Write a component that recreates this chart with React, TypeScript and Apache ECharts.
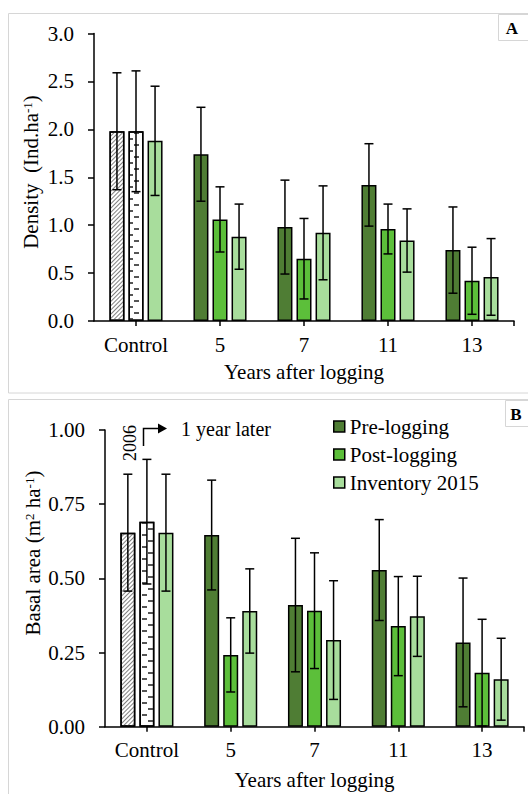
import React, { useEffect, useRef } from "react";
import * as echarts from "echarts";

// Categories and group labels
const categories = ["Control", "5", "7", "11", "13"];
const seriesNames = ["Pre-logging", "Post-logging", "Inventory 2015"];

// Panel A: density (Ind.ha-1), means and standard deviations
const densityPre = [1.98, 1.74, 0.98, 1.42, 0.74];
const densityPost = [1.98, 1.06, 0.65, 0.96, 0.42];
const densityInv = [1.88, 0.88, 0.92, 0.84, 0.46];
const densityPreSd = [0.61, 0.49, 0.49, 0.43, 0.45];
const densityPostSd = [0.63, 0.34, 0.42, 0.26, 0.35];
const densityInvSd = [0.57, 0.34, 0.49, 0.33, 0.4];

// Panel B: basal area (m2 ha-1), means and standard deviations
const basalPre = [0.654, 0.646, 0.41, 0.528, 0.284];
const basalPost = [0.691, 0.242, 0.391, 0.339, 0.182];
const basalInv = [0.654, 0.39, 0.292, 0.372, 0.16];
const basalPreSd = [0.197, 0.185, 0.225, 0.17, 0.217];
const basalPostSd = [0.21, 0.125, 0.195, 0.167, 0.18];
const basalInvSd = [0.197, 0.142, 0.2, 0.135, 0.138];

// Axis scales
const densityAxis = { min: 0, max: 3, interval: 0.5, digits: 1 };
const basalAxis = { min: 0, max: 1, interval: 0.25, digits: 2 };

const COLORS = ["#4f7d34", "#5cbf3a", "#a8dd9c"];
const FONT = "Liberation Serif";
const FS = 21;
const BAR_W = 15;
const GAP_RATIO = 0.27;
const PITCH = BAR_W * (1 + GAP_RATIO);

// Control bars: diagonal hatch (2006) and staggered dashes (1 year later)
const hatchDecal = {
  symbol: "rect",
  symbolSize: 1,
  color: "#808080",
  dashArrayX: [1, 0],
  dashArrayY: [1, 2],
  rotation: -Math.PI / 4,
};

const dashDecal = {
  symbol: "rect",
  symbolSize: 1,
  color: "#555555",
  dashArrayX: [
    [0, 2, 5, 7],
    [0, 8, 5, 1],
  ],
  dashArrayY: [2, 4],
  rotation: 0,
};

function barData(values: number[], seriesIdx: number) {
  return values.map((v, i) => {
    if (i === 0 && seriesIdx < 2) {
      return {
        value: v,
        itemStyle: { color: "#ffffff", decal: seriesIdx === 0 ? hatchDecal : dashDecal },
      };
    }
    return v;
  });
}

function barSeries(values: number[], seriesIdx: number, axisIdx: number) {
  return {
    type: "bar",
    name: seriesNames[seriesIdx],
    xAxisIndex: axisIdx,
    yAxisIndex: axisIdx,
    barWidth: BAR_W,
    barGap: `${GAP_RATIO * 100}%`,
    itemStyle: { color: COLORS[seriesIdx], borderColor: "#000", borderWidth: 1.5 },
    data: barData(values, seriesIdx),
    z: 2,
  };
}

function errorSeries(means: number[], sds: number[], seriesIdx: number, axisIdx: number) {
  const offset = (seriesIdx - 1) * PITCH;
  return {
    type: "custom",
    xAxisIndex: axisIdx,
    yAxisIndex: axisIdx,
    encode: { x: 0, y: 1 },
    z: 5,
    data: means.map((m, i) => [i, m, sds[i]]),
    renderItem: (_params: any, api: any) => {
      const idx = api.value(0);
      const mean = api.value(1);
      const sd = api.value(2);
      const top = api.coord([idx, mean + sd]);
      const bot = api.coord([idx, Math.max(0, mean - sd)]);
      const x = top[0] + offset;
      const style = { stroke: "#000", lineWidth: 1.5 };
      const cap = 4.5;
      return {
        type: "group",
        children: [
          { type: "line", shape: { x1: x, y1: top[1], x2: x, y2: bot[1] }, style },
          { type: "line", shape: { x1: x - cap, y1: top[1], x2: x + cap, y2: top[1] }, style },
          { type: "line", shape: { x1: x - cap, y1: bot[1], x2: x + cap, y2: bot[1] }, style },
        ],
      };
    },
  };
}

function yAxis(scale: { min: number; max: number; interval: number; digits: number }, gridIndex: number) {
  return {
    type: "value",
    gridIndex,
    min: scale.min,
    max: scale.max,
    interval: scale.interval,
    splitLine: { show: false },
    axisLine: { show: true, lineStyle: { color: "#000", width: 1.5 } },
    axisTick: { show: true, inside: false, length: 6, lineStyle: { color: "#000", width: 1.5 } },
    axisLabel: {
      margin: 20,
      fontFamily: FONT,
      fontSize: FS,
      color: "#000",
      formatter: (v: number) => v.toFixed(scale.digits),
    },
  };
}

function xAxis(gridIndex: number, nameGap: number) {
  return {
    type: "category",
    gridIndex,
    data: categories,
    name: "Years after logging",
    nameLocation: "middle",
    nameGap,
    nameTextStyle: { fontFamily: FONT, fontSize: FS, color: "#000" },
    axisLine: { show: true, lineStyle: { color: "#000", width: 1.5 } },
    axisTick: { show: true, alignWithLabel: true, length: 5, lineStyle: { color: "#000", width: 1.5 } },
    axisLabel: { margin: 13, fontFamily: FONT, fontSize: FS, color: "#000" },
  };
}

const nameRich = {
  base: { fontFamily: FONT, fontSize: FS, fill: "#000" },
  sup: { fontFamily: FONT, fontSize: 13, fill: "#000", verticalAlign: "top" },
};

export default function App() {
  const ref = useRef<HTMLDivElement>(null);

  useEffect(() => {
    document.body.style.margin = "0";
    if (!ref.current) return;
    const chart = echarts.init(ref.current, undefined, { renderer: "svg" });

    const axisEndTick = (x: number, y: number) => ({
      type: "line",
      z: 10,
      shape: { x1: x, y1: y, x2: x, y2: y + 5 },
      style: { stroke: "#000", lineWidth: 1.5 },
    });

    const option: any = {
      animation: false,
      backgroundColor: "#ffffff",
      grid: [
        { left: 94, right: 14, top: 33.5, height: 287.5 },
        { left: 105, right: 4, top: 430, height: 296.7 },
      ],
      xAxis: [xAxis(0, 40), xAxis(1, 43)],
      yAxis: [yAxis(densityAxis, 0), yAxis(basalAxis, 1)],
      legend: {
        data: seriesNames,
        orient: "vertical",
        left: 328,
        top: 411,
        itemWidth: 11,
        itemHeight: 11,
        itemGap: 7,
        icon: "rect",
        itemStyle: { borderColor: "#000", borderWidth: 1.5 },
        textStyle: { fontFamily: FONT, fontSize: FS, color: "#000", lineHeight: 21 },
      },
      series: [
        barSeries(densityPre, 0, 0),
        barSeries(densityPost, 1, 0),
        barSeries(densityInv, 2, 0),
        errorSeries(densityPre, densityPreSd, 0, 0),
        errorSeries(densityPost, densityPostSd, 1, 0),
        errorSeries(densityInv, densityInvSd, 2, 0),
        barSeries(basalPre, 0, 1),
        barSeries(basalPost, 1, 1),
        barSeries(basalInv, 2, 1),
        errorSeries(basalPre, basalPreSd, 0, 1),
        errorSeries(basalPost, basalPostSd, 1, 1),
        errorSeries(basalInv, basalInvSd, 2, 1),
      ],
      graphic: [
        // panel frames
        {
          type: "rect",
          shape: { x: 8.5, y: 13.5, width: 540, height: 379.5 },
          style: { fill: "none", stroke: "#d6d6d6", lineWidth: 1 },
          z: 0,
        },
        {
          type: "rect",
          shape: { x: 8.5, y: 399.5, width: 540, height: 420 },
          style: { fill: "none", stroke: "#d6d6d6", lineWidth: 1 },
          z: 0,
        },
        // closing ticks at the right end of each category axis
        axisEndTick(514, 321),
        axisEndTick(524, 726.7),
        // panel letters
        {
          type: "rect",
          shape: { x: 498.5, y: 14.5, width: 40, height: 26 },
          style: { fill: "#fff", stroke: "#d6d6d6", lineWidth: 1 },
          z: 10,
        },
        {
          type: "text",
          x: 512,
          y: 28,
          z: 11,
          style: { text: "A", font: `bold 17px '${FONT}'`, fill: "#000", align: "center", verticalAlign: "middle" },
        },
        {
          type: "rect",
          shape: { x: 505.5, y: 400.5, width: 40, height: 26 },
          style: { fill: "#fff", stroke: "#d6d6d6", lineWidth: 1 },
          z: 10,
        },
        {
          type: "text",
          x: 516,
          y: 414,
          z: 11,
          style: { text: "B", font: `bold 17px '${FONT}'`, fill: "#000", align: "center", verticalAlign: "middle" },
        },
        // y-axis titles
        {
          type: "text",
          x: 31,
          y: 172,
          rotation: Math.PI / 2,
          z: 10,
          style: {
            text: "{base|Density  (Ind.ha}{sup|-1}{base|)}",
            rich: nameRich,
            align: "center",
            verticalAlign: "middle",
          },
        },
        {
          type: "text",
          x: 33,
          y: 553,
          rotation: Math.PI / 2,
          z: 10,
          style: {
            text: "{base|Basal area (m}{sup|2}{base| ha}{sup|-1}{base|)}",
            rich: nameRich,
            align: "center",
            verticalAlign: "middle",
          },
        },
        // control annotation
        {
          type: "text",
          x: 130,
          y: 443,
          rotation: Math.PI / 2,
          z: 10,
          style: { text: "2006", font: `18px '${FONT}'`, fill: "#000", align: "center", verticalAlign: "middle" },
        },
        {
          type: "polyline",
          z: 10,
          shape: { points: [[143.5, 446], [143.5, 428.5], [159, 428.5]] },
          style: { stroke: "#000", lineWidth: 1.5, fill: "none" },
        },
        {
          type: "polygon",
          z: 10,
          shape: { points: [[158, 423.5], [167, 428.5], [158, 433.5]] },
          style: { fill: "#000" },
        },
        {
          type: "text",
          x: 181,
          y: 429,
          z: 10,
          style: { text: "1 year later", font: `20px '${FONT}'`, fill: "#000", align: "left", verticalAlign: "middle" },
        },
      ],
    };

    chart.setOption(option);
    return () => chart.dispose();
  }, []);

  return <div ref={ref} style={{ width: 528, height: 794 }} />;
}
